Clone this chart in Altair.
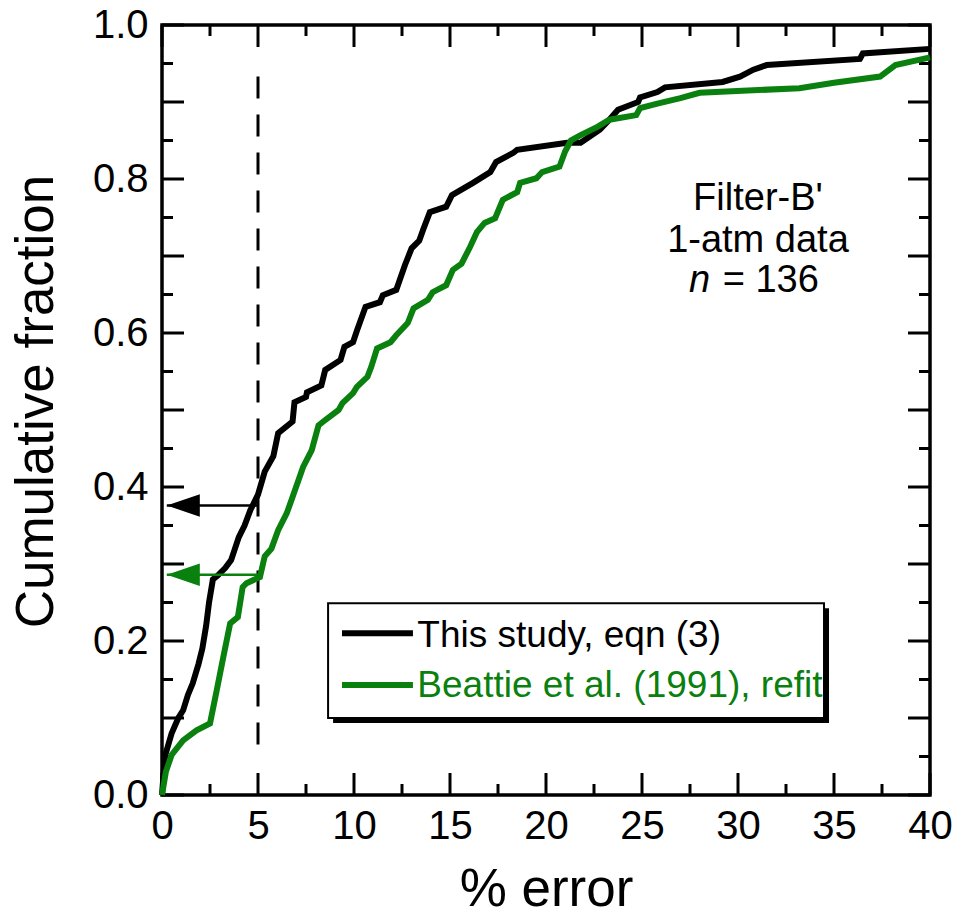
import altair as alt
import pandas as pd

# ---------------- data ----------------
this_x = [0.0, 0.15, 0.5, 0.85, 1.1, 1.35, 1.6, 1.9, 2.1, 2.3, 2.45, 2.65, 2.9, 3.3, 3.6, 3.8,
          4.0, 4.3, 4.6, 5.0, 5.35, 5.8, 6.05, 6.8, 6.9, 7.5, 7.55, 8.3, 8.5, 9.3, 9.5, 9.95,
          10.15, 10.6, 11.35, 11.5, 12.2, 12.65, 13.0, 13.4, 13.6, 13.95, 14.8, 15.1, 16.2,
          17.1, 17.4, 18.3, 18.5, 21.1, 21.8, 22.8, 23.3, 23.75, 24.8, 24.9, 25.8, 26.2, 29.2,
          30.1, 30.8, 31.5, 36.35, 36.5, 40.0]
this_y = [0.0, 0.05, 0.08, 0.10, 0.11, 0.13, 0.145, 0.17, 0.19, 0.22, 0.25, 0.28, 0.285, 0.295,
          0.305, 0.32, 0.335, 0.35, 0.37, 0.39, 0.42, 0.44, 0.47, 0.485, 0.51, 0.517, 0.523,
          0.532, 0.552, 0.565, 0.582, 0.588, 0.603, 0.634, 0.64, 0.649, 0.656, 0.688, 0.71,
          0.72, 0.734, 0.757, 0.764, 0.779, 0.795, 0.809, 0.822, 0.834, 0.838, 0.847, 0.847,
          0.864, 0.877, 0.89, 0.9, 0.906, 0.913, 0.919, 0.926, 0.933, 0.942, 0.948, 0.956,
          0.963, 0.969]

beattie_x = [0.0, 0.2, 0.5, 1.1, 1.8, 2.5, 2.85, 3.2, 3.55, 3.95, 4.2, 4.4, 5.1, 5.35, 5.7,
             6.05, 6.5, 6.8, 7.35, 7.8, 8.15, 8.5, 9.2, 9.4, 9.95, 10.15, 10.7, 10.9, 11.2,
             11.9, 12.2, 12.8, 13.1, 13.85, 14.1, 14.8, 15.15, 15.6, 16.05, 16.4, 16.8, 17.35,
             17.75, 18.5, 18.65, 19.5, 19.8, 20.7, 21.0, 21.3, 21.8, 22.7, 23.3, 24.7, 24.9,
             25.8, 27.0, 28.0, 33.2, 35.0, 37.4, 38.2, 40.0]
beattie_y = [0.0, 0.03, 0.052, 0.071, 0.084, 0.093, 0.136, 0.18, 0.223, 0.231, 0.27, 0.275,
             0.283, 0.31, 0.32, 0.344, 0.366, 0.387, 0.426, 0.448, 0.48, 0.487, 0.5, 0.509,
             0.522, 0.53, 0.543, 0.556, 0.58, 0.588, 0.597, 0.613, 0.632, 0.643, 0.653, 0.662,
             0.682, 0.69, 0.712, 0.731, 0.743, 0.749, 0.773, 0.783, 0.795, 0.801, 0.809, 0.816,
             0.836, 0.85, 0.857, 0.868, 0.877, 0.883, 0.892, 0.898, 0.905, 0.912, 0.918, 0.925,
             0.933, 0.948, 0.958]

series_names = ["This study, eqn (3)", "Beattie et al. (1991), refit"]
series_colors = ["#000000", "#0a800f"]

x_labels = [0, 5, 10, 15, 20, 25, 30, 35, 40]
y_labels = [0.0, 0.2, 0.4, 0.6, 0.8, 1.0]
x_major = [0, 5, 10, 15, 20, 25, 30, 35, 40]
x_minor = [2.5, 7.5, 12.5, 17.5, 22.5, 27.5, 32.5, 37.5]
y_major = [0.0, 0.1, 0.2, 0.3, 0.4, 0.5, 0.6, 0.7, 0.8, 0.9, 1.0]
y_minor = [0.05, 0.15, 0.25, 0.35, 0.45, 0.55, 0.65, 0.75, 0.85, 0.95]

cut_x = 5            # 5 % error line
cut_fraction = [0.376, 0.286]   # fraction below 5 % for each series
arrow_tip_x = 0.25

annot_lines = ["Filter-B'", "1-atm data"]

# ---------------- chart ----------------
W, H = 768, 770
FONT = "Liberation Sans"
xs = alt.Scale(domain=[0, 40], nice=False, zero=False)
ys = alt.Scale(domain=[0, 1], nice=False, zero=False)
cs = alt.Scale(domain=series_names, range=series_colors)

rows = []
for i, (x, y) in enumerate(zip(this_x, this_y)):
    rows.append({"x": x, "y": y, "s": series_names[0], "i": i})
for i, (x, y) in enumerate(zip(beattie_x, beattie_y)):
    rows.append({"x": x, "y": y, "s": series_names[1], "i": i})
df = pd.DataFrame(rows)

xaxis = alt.Axis(values=x_labels, ticks=False, domain=False, grid=False,
                 labelFont=FONT, labelFontSize=40, labelColor="black", labelPadding=11,
                 labelFlush=False, labelOverlap=False, labelBound=False,
                 title="% error", titleFont=FONT, titleFontSize=53, titleFontWeight="normal",
                 titleColor="black", titleBaseline="alphabetic", titleY=110)
yaxis = alt.Axis(values=y_labels, format=".1f", ticks=False, domain=False, grid=False,
                 labelFont=FONT, labelFontSize=40, labelColor="black", labelPadding=14,
                 labelFlush=False, labelOverlap=False, labelBound=False,
                 title="Cumulative fraction", titleFont=FONT, titleFontSize=53,
                 titleFontWeight="normal", titleColor="black", titleBaseline="alphabetic",
                 titleX=-110, titleY=376, titleAngle=270)


def X(field):
    return alt.X(field, scale=xs, axis=xaxis)


def Y(field):
    return alt.Y(field, scale=ys, axis=yaxis)


black_line = alt.Chart(df[df.s == series_names[0]]).mark_line(strokeWidth=6).encode(
    x=X("x:Q"), y=Y("y:Q"),
    color=alt.Color("s:N", scale=cs, legend=None),
    order=alt.Order("i:Q"),
)
green_line = alt.Chart(df[df.s == series_names[1]]).mark_line(strokeWidth=6).encode(
    x=X("x:Q"), y=Y("y:Q"),
    color=alt.Color("s:N", scale=cs, legend=None),
    order=alt.Order("i:Q"),
)

# dashed vertical line at 5 %
dash_df = pd.DataFrame({"x": [cut_x], "y": [0.933], "y2": [0.06]})
dash = alt.Chart(dash_df).mark_rule(strokeDash=[22, 16], strokeWidth=3, color="black").encode(
    x=X("x:Q"), y=Y("y:Q"), y2="y2:Q",
)

# arrows
arr_df = pd.DataFrame({"x": [cut_x, cut_x], "x2": [arrow_tip_x, arrow_tip_x],
                       "y": cut_fraction, "s": series_names})
arr_lines = alt.Chart(arr_df).mark_rule(strokeWidth=2.5).encode(
    x=X("x:Q"), x2="x2:Q", y=Y("y:Q"),
    color=alt.Color("s:N", scale=cs, legend=None),
)
arr_heads = alt.Chart(arr_df).mark_point(
    shape="M 0 0 L 2 -0.68 L 2 0.68 Z", size=1089, filled=True, opacity=1, strokeWidth=0
).encode(
    x=X("x2:Q"), y=Y("y:Q"),
    color=alt.Color("s:N", scale=cs, legend=None),
)

# legend box
box_df = pd.DataFrame({"x": [8.65], "x2": [34.48], "y": [0.249], "y2": [0.1]})
shadow = alt.Chart(box_df).mark_rect(color="black", xOffset=5, x2Offset=5,
                                     yOffset=5, y2Offset=5).encode(
    x=X("x:Q"), x2="x2:Q", y=Y("y:Q"), y2="y2:Q",
)
box = alt.Chart(box_df).mark_rect(fill="white", stroke="black", strokeWidth=2).encode(
    x=X("x:Q"), x2="x2:Q", y=Y("y:Q"), y2="y2:Q",
)
leg_df = pd.DataFrame({"x": [9.375, 9.375], "x2": [13.07, 13.07], "y": [0.21, 0.143],
                       "ty": [0.192, 0.127], "tx": [13.3, 13.3], "s": series_names})
leg_lines = alt.Chart(leg_df).mark_rule(strokeWidth=6).encode(
    x=X("x:Q"), x2="x2:Q", y=Y("y:Q"),
    color=alt.Color("s:N", scale=cs, legend=None),
)
leg_text = alt.Chart(leg_df).mark_text(align="left", baseline="alphabetic", font=FONT,
                                       fontSize=37).encode(
    x=X("tx:Q"), y=Y("ty:Q"), text="s:N",
    color=alt.Color("s:N", scale=cs, legend=None),
)

# annotation text
ann_df = pd.DataFrame({"x": [31.04, 31.04], "y": [0.7597, 0.705], "t": annot_lines})
ann = alt.Chart(ann_df).mark_text(align="center", baseline="alphabetic", font=FONT,
                                  fontSize=38, color="black").encode(
    x=X("x:Q"), y=Y("y:Q"), text="t:N",
)
n_df = pd.DataFrame({"x": [28.55], "x_eq": [29.2], "y": [0.653]})
n_it = alt.Chart(n_df).mark_text(align="right", baseline="alphabetic", font=FONT,
                                 fontSize=38, fontStyle="italic", color="black",
                                 text="n").encode(x=X("x:Q"), y=Y("y:Q"))
n_rest = alt.Chart(n_df).mark_text(align="left", baseline="alphabetic", font=FONT,
                                   fontSize=38, color="black",
                                   text="= 136").encode(x=X("x_eq:Q"), y=Y("y:Q"))


# inward ticks on all four sides
def xticks(vals, length):
    d = pd.DataFrame({"v": vals})
    bottom = alt.Chart(d).mark_rule(strokeWidth=3, color="black").encode(
        x=X("v:Q"), y=alt.value(H), y2=alt.value(H - length))
    top = alt.Chart(d).mark_rule(strokeWidth=3, color="black").encode(
        x=X("v:Q"), y=alt.value(0), y2=alt.value(length))
    return [bottom, top]


def yticks(vals, length):
    d = pd.DataFrame({"v": vals})
    left = alt.Chart(d).mark_rule(strokeWidth=3, color="black").encode(
        y=Y("v:Q"), x=alt.value(0), x2=alt.value(length))
    right = alt.Chart(d).mark_rule(strokeWidth=3, color="black").encode(
        y=Y("v:Q"), x=alt.value(W), x2=alt.value(W - length))
    return [left, right]


tick_layers = xticks(x_major, 22) + xticks(x_minor, 11) + yticks(y_major, 22) + yticks(y_minor, 11)

chart = alt.layer(
    black_line, *tick_layers, dash, green_line, arr_lines, arr_heads,
    shadow, box, leg_lines, leg_text, ann, n_it, n_rest,
).properties(
    width=W, height=H,
    padding={"left": 162, "top": 25, "right": 26, "bottom": 122},
    autosize=alt.AutoSizeParams(type="none"),
    background="white",
).configure_view(stroke="black", strokeWidth=3.5)

chart.save("out.html", embed_options={"renderer": "svg", "actions": False})
